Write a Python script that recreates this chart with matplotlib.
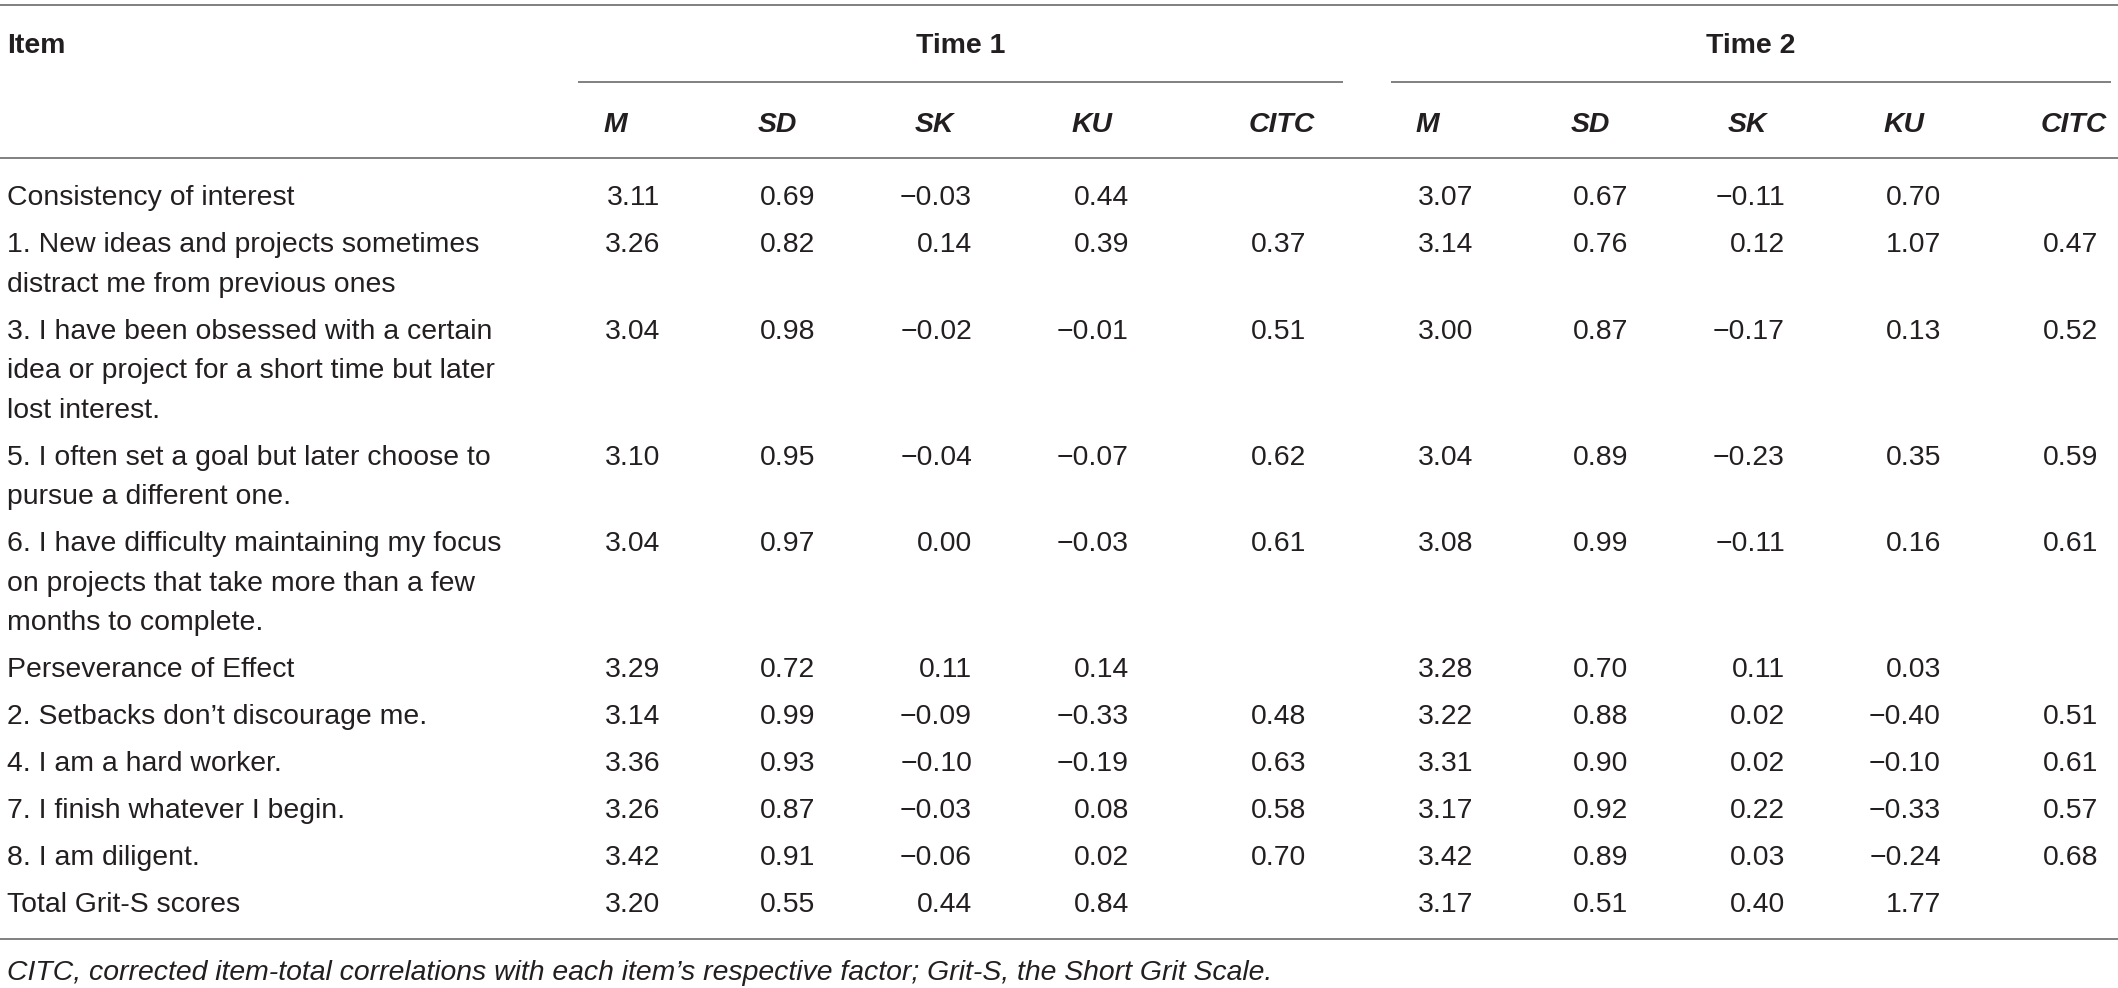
import matplotlib
matplotlib.use("Agg")
import matplotlib.pyplot as plt

plt.rcParams['font.family'] = ['Liberation Sans', 'DejaVu Sans']

# ---- table data ----
items = [
    "Consistency of interest",
    "1. New ideas and projects sometimes\ndistract me from previous ones",
    "3. I have been obsessed with a certain\nidea or project for a short time but later\nlost interest.",
    "5. I often set a goal but later choose to\npursue a different one.",
    "6. I have difficulty maintaining my focus\non projects that take more than a few\nmonths to complete.",
    "Perseverance of Effect",
    "2. Setbacks don\u2019t discourage me.",
    "4. I am a hard worker.",
    "7. I finish whatever I begin.",
    "8. I am diligent.",
    "Total Grit-S scores",
]

stats = ["M", "SD", "SK", "KU", "CITC"]
groups = ["Time 1", "Time 2"]

t1_m = [3.11, 3.26, 3.04, 3.10, 3.04, 3.29, 3.14, 3.36, 3.26, 3.42, 3.20]
t1_sd = [0.69, 0.82, 0.98, 0.95, 0.97, 0.72, 0.99, 0.93, 0.87, 0.91, 0.55]
t1_sk = [-0.03, 0.14, -0.02, -0.04, 0.00, 0.11, -0.09, -0.10, -0.03, -0.06, 0.44]
t1_ku = [0.44, 0.39, -0.01, -0.07, -0.03, 0.14, -0.33, -0.19, 0.08, 0.02, 0.84]
t1_citc = [None, 0.37, 0.51, 0.62, 0.61, None, 0.48, 0.63, 0.58, 0.70, None]

t2_m = [3.07, 3.14, 3.00, 3.04, 3.08, 3.28, 3.22, 3.31, 3.17, 3.42, 3.17]
t2_sd = [0.67, 0.76, 0.87, 0.89, 0.99, 0.70, 0.88, 0.90, 0.92, 0.89, 0.51]
t2_sk = [-0.11, 0.12, -0.17, -0.23, -0.11, 0.11, 0.02, 0.02, 0.22, 0.03, 0.40]
t2_ku = [0.70, 1.07, 0.13, 0.35, 0.16, 0.03, -0.40, -0.10, -0.33, -0.24, 1.77]
t2_citc = [None, 0.47, 0.52, 0.59, 0.61, None, 0.51, 0.61, 0.57, 0.68, None]

footnote = ("CITC, corrected item-total correlations with each item\u2019s "
            "respective factor; Grit-S, the Short Grit Scale.")

# ---- layout (pixel units, y downwards) ----
W, H = 2118, 988
TEXT = '#231f20'
RULE = '#808080'
FS = 20.4
LINE_H = 39.5
ROW_GAP = 47
BASE_OFF = 10          # cap-centre -> baseline

col_right = [[660, 815, 972, 1129, 1306], [1473, 1628, 1785, 1941, 2098]]
group_span = [(578, 1343), (1391, 2111)]


def fmt(v):
    if v is None:
        return ""
    s = f"{abs(v):.2f}"
    return ("\u2212" + s) if v < 0 else s


fig = plt.figure(figsize=(W / 100, H / 100), dpi=100)
ax = fig.add_axes([0, 0, 1, 1])
ax.set_xlim(0, W)
ax.set_ylim(H, 0)
ax.axis('off')

# rules
for y in (5, 158, 939):
    ax.plot([0, W], [y, y], color=RULE, lw=1.4, solid_capstyle='butt')
for x0, x1 in group_span:
    ax.plot([x0, x1], [82, 82], color=RULE, lw=1.4, solid_capstyle='butt')

# header
ax.text(7, 43 + BASE_OFF, "Item", fontsize=FS, fontweight='bold',
        color=TEXT, ha='left', va='baseline')
for g, (x0, x1) in zip(groups, group_span):
    ax.text((x0 + x1) / 2, 43 + BASE_OFF, g, fontsize=FS, fontweight='bold',
            color=TEXT, ha='center', va='baseline')
for rights in col_right:
    for s, xr in zip(stats, rights):
        ax.text(xr - 57, 122 + BASE_OFF, s, fontsize=FS, fontweight='bold',
                fontstyle='italic', color=TEXT, ha='left', va='baseline')

# body
columns = [[t1_m, t1_sd, t1_sk, t1_ku, t1_citc],
           [t2_m, t2_sd, t2_sk, t2_ku, t2_citc]]
y = 195
for i, label in enumerate(items):
    lines = label.split("\n")
    for k, ln in enumerate(lines):
        ax.text(7, y + k * LINE_H + BASE_OFF, ln, fontsize=FS, color=TEXT,
                ha='left', va='baseline')
    for cols, rights in zip(columns, col_right):
        for vals, xr in zip(cols, rights):
            ax.text(xr, y + BASE_OFF, fmt(vals[i]), fontsize=FS, color=TEXT,
                    ha='right', va='baseline')
    y += (len(lines) - 1) * LINE_H + ROW_GAP

ax.text(7, 970 + BASE_OFF, footnote, fontsize=FS, fontstyle='italic',
        color=TEXT, ha='left', va='baseline')

fig.savefig('out.png', dpi=100, facecolor='white')
